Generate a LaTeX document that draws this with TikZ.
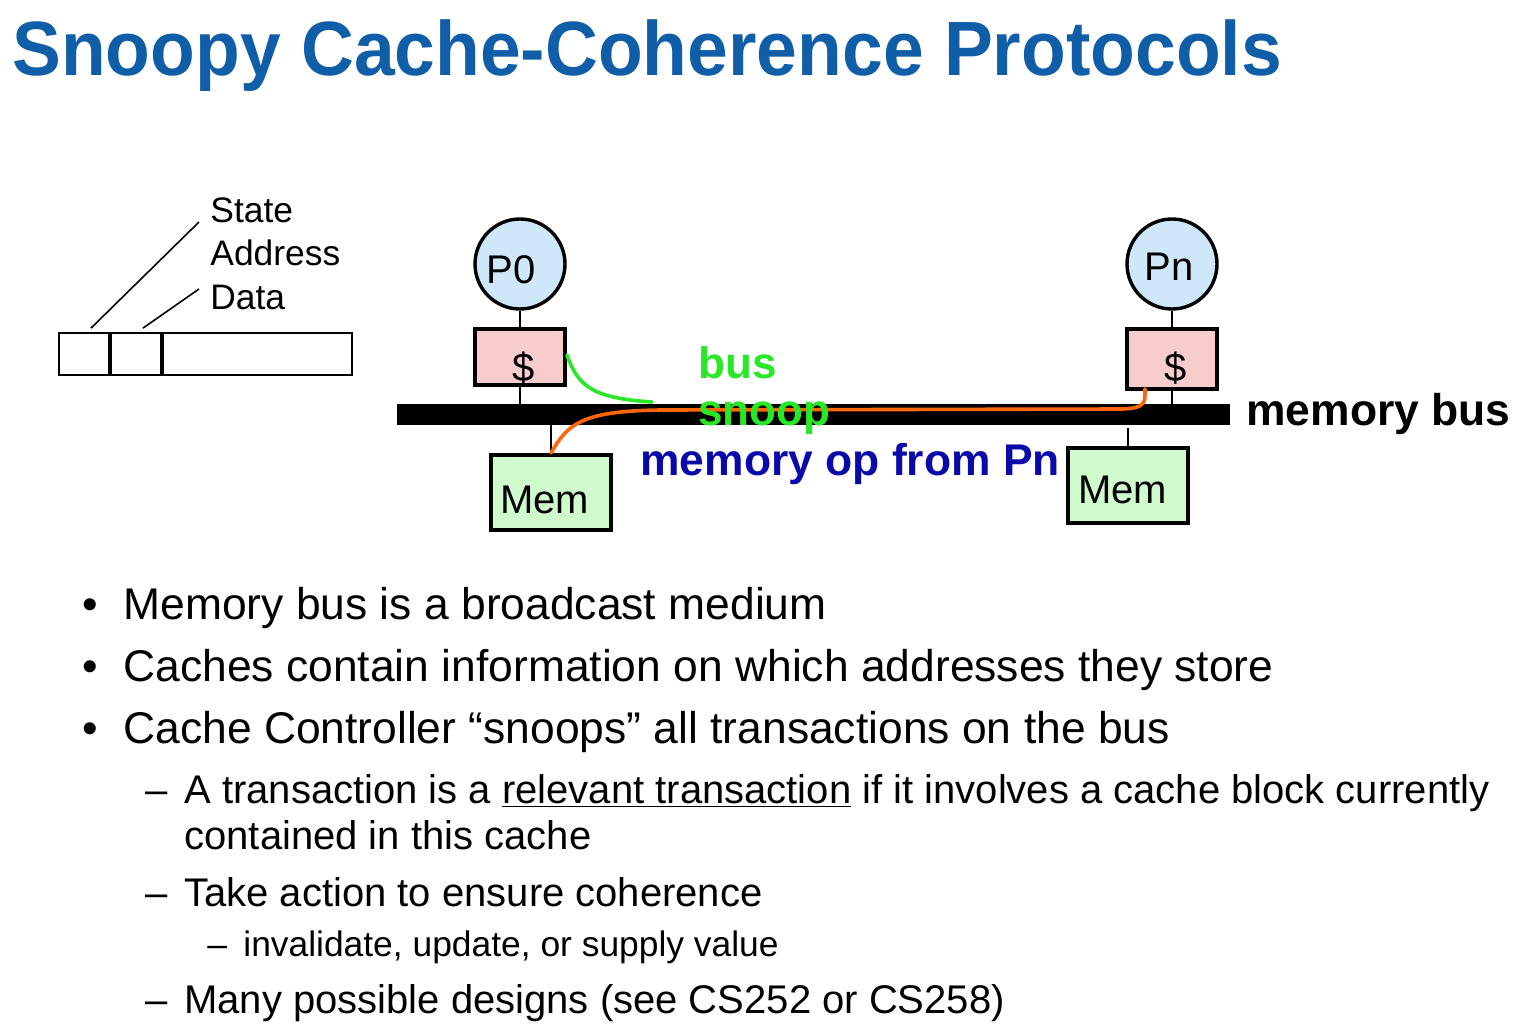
\documentclass[tikz,border=0pt]{standalone}
\usepackage{fontspec}
\setmainfont{Liberation Sans}
\definecolor{titleblue}{RGB}{16,94,168}
\definecolor{procfill}{RGB}{206,232,250}
\definecolor{cachefill}{RGB}{248,204,204}
\definecolor{memfill}{RGB}{206,250,206}
\definecolor{snoopgreen}{RGB}{40,232,40}
\definecolor{oporange}{RGB}{255,102,10}
\definecolor{opblue}{RGB}{10,10,170}
\begin{document}
\begin{tikzpicture}[x=0.5pt,y=-0.5pt,
  txt/.style={inner sep=0pt,anchor=base west},
  proc/.style={circle,draw,line width=1.7pt,fill=procfill,minimum size=45pt,inner sep=0pt},
  cachebox/.style={draw,line width=1.9pt,fill=cachefill,minimum width=45pt,minimum height=28pt,inner sep=0pt},
  membox/.style={draw,line width=1.9pt,fill=memfill,minimum width=60pt,minimum height=37.5pt,inner sep=0pt},
  field/.style={draw,line width=0.9pt,minimum height=21pt,inner sep=0pt},
  wire/.style={line width=1.4pt},
  lbl/.style={txt,font=\fontsize{20}{22}\selectfont},
  fieldlbl/.style={txt,font=\fontsize{17.7}{20}\selectfont},
  bull/.style={txt,font=\fontsize{22.2}{26}\selectfont},
  sub/.style={txt,font=\fontsize{20}{24}\selectfont},
  subsub/.style={txt,font=\fontsize{17.7}{20}\selectfont},
  bold/.style={txt,font=\fontsize{22.2}{26}\selectfont\bfseries}]
\useasboundingbox (0,0) rectangle (1528,1030);

% title
\node[txt,font=\fontsize{38.5}{44}\selectfont\bfseries,text=titleblue] (title) at (12,75)
  {\scalebox{0.951}[1]{Snoopy Cache-Coherence Protocols}};

% cache line layout
\node[field,minimum width=25pt] (fstate) at (84,354) {};
\node[field,minimum width=25pt] (faddr) at (136,354) {};
\node[field,minimum width=94.5pt] (fdata) at (257.5,354) {};
\coordinate (lstate) at (199,222);
\coordinate (laddr) at (199,289);
\draw[line width=0.8pt] (fstate.north) ++(7,-4) -- (lstate);
\draw[line width=0.8pt] (faddr.north) ++(7,-4) -- (laddr);
\node[fieldlbl] (tstate) at (210,222) {State};
\node[fieldlbl] (taddr) at (210,265) {Address};
\node[fieldlbl] (tdata) at (210,309) {Data};

% memory bus
\fill (397,404) rectangle (1230,425);
\node[bold] (tbus) at (1246,425) {memory bus};

% processor 0 side
\node[proc] (p0) at (520,264) {};
\node[lbl] (tp0) at (486,283) {P0};
\node[cachebox] (c0) at (520,357) {};
\node[lbl] (tc0) at (512,381) {\$};
\node[membox] (m0) at (551,492.5) {};
\node[lbl] (tm0) at (500,513) {Mem};
\draw[wire] (p0.south) -- (c0.north);
\draw[wire] (c0.south) -- (520,404);
\draw[wire] (551,425) -- (m0.north);

% processor n side
\node[proc] (pn) at (1172,264) {};
\node[lbl] (tpn) at (1144,280) {Pn};
\node[cachebox,minimum height=30pt] (cn) at (1172,359) {};
\node[lbl] (tcn) at (1164,381) {\$};
\node[membox] (mn) at (1128,485.5) {};
\node[lbl] (tmn) at (1078,503) {Mem};
\draw[wire] (pn.south) -- (cn.north);
\draw[wire] (cn.south) -- (1172,404);
\draw[wire] (1128,428) -- (mn.north);

% bus transaction from Pn and the snoop at P0
\coordinate (opstart) at (1145,389);
\draw[oporange,line width=1.8pt,line cap=round]
  (opstart) -- (1145,396) .. controls (1145,406) and (1138,409) .. (1118,409)
  -- (660,410) .. controls (580,411) and (567,425) .. (m0.north);
\coordinate (snoopend) at (652,402);
\draw[snoopgreen,line width=1.8pt,line cap=round]
  (c0.east) ++(0,-2) .. controls (578,385) and (590,398) .. (snoopend);
\node[txt,font=\fontsize{22}{26}\selectfont\bfseries,text=snoopgreen] (tsbus) at (698,378) {bus};
\node[txt,font=\fontsize{22}{26}\selectfont\bfseries,text=snoopgreen] (tsnoop) at (698,425) {snoop};
\node[bold,text=opblue] (top) at (640,475) {memory op from Pn};

% bullet list
\node[bull] (b1d) at (82,619) {•};
\node[bull] (b1) at (123,619) {Memory bus is a broadcast medium};
\node[bull] (b2d) at (82,681) {•};
\node[bull] (b2) at (123,681) {Caches contain information on which addresses they store};
\node[bull] (b3d) at (82,743) {•};
\node[bull] (b3) at (123,743) {Cache Controller “snoops” all transactions on the bus};
\node[sub] (s1d) at (145,803) {–};
\node[sub] (s1) at (184,803) {A transaction is a \underline{relevant transaction} if it involves a cache block currently};
\node[sub] (s1b) at (184,849) {contained in this cache};
\node[sub] (s2d) at (145,906) {–};
\node[sub] (s2) at (184,906) {Take action to ensure coherence};
\node[subsub] (ss1d) at (207,956) {–};
\node[subsub] (ss1) at (243,956) {invalidate, update, or supply value};
\node[sub] (s3d) at (145,1013) {–};
\node[sub] (s3) at (184,1013) {Many possible designs (see CS252 or CS258)};
\end{tikzpicture}
\end{document}
